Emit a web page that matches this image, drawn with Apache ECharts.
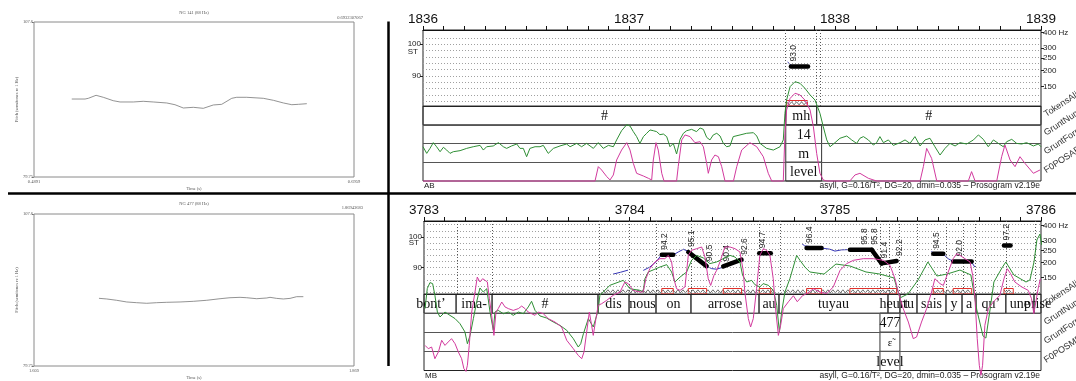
<!DOCTYPE html>
<html><head><meta charset="utf-8">
<style>html,body{margin:0;padding:0;background:#fff}#c{width:1076px;height:381px}</style>
<script src="https://cdn.jsdelivr.net/npm/echarts/dist/echarts.min.js"></script>
</head><body><div id="c"></div>
<script>
// ---------------- Left panels (stylized pitch contours) ----------------
const leftTopTitle = 'NG 141 (88 Hz)';
const leftTopCorner = '0.6932307067';
const leftTopTimeRange = [0.4891, 0.6959];
const leftPitchRange = [79.75, 107.6];
const leftTopCurve = [[0.5135,93.76],[0.5221,93.76],[0.5242,93.89],[0.5292,94.43],[0.5339,94.07],[0.5403,93.46],[0.5447,93.23],[0.5533,93.23],[0.5597,93.35],[0.5662,93.23],[0.5749,93.05],[0.5802,92.74],[0.5856,92.15],[0.5921,92.27],[0.5985,92.09],[0.6050,92.69],[0.6104,92.81],[0.6169,93.89],[0.6201,94.07],[0.6266,94.07],[0.6373,93.89],[0.6438,93.53],[0.6503,93.05],[0.6557,92.74],[0.6600,92.81],[0.6654,92.92]];
const leftBotTitle = 'NG 477 (88 Hz)';
const leftBotCorner = '1.86943683';
const leftBotTimeRange = [1.605, 1.869];
const leftBotCurve = [[1.6586,92.15],[1.6650,92.03],[1.6732,91.79],[1.6815,91.48],[1.6897,91.35],[1.6980,91.24],[1.7062,91.35],[1.7145,91.42],[1.7255,91.48],[1.7364,91.60],[1.7475,91.79],[1.7585,92.08],[1.7667,92.26],[1.7750,92.33],[1.7805,92.26],[1.7887,92.08],[1.7970,92.21],[1.7997,92.33],[1.8052,92.14],[1.8107,92.03],[1.8162,92.14],[1.8217,92.45],[1.8272,92.45]];

// ---------------- Shared prosogram axis data ----------------
const stTicks = [90, 100];
const hzTicks = [150, 200, 250, 300, 400];
const tierNamesTop = ['TokensAlign', 'GruntNum', 'GruntForm', 'F0POSAB'];
const tierNamesBot = ['TokensAlign', 'GruntNum', 'GruntForm', 'F0POSMB'];
const tierRows = [0, 1, 2, 3];
const footerText = 'asyll, G=0.16/T\u00B2, DG=20, dmin=0.035 \u2013 Prosogram v2.19e';

// ---------------- Right top prosogram (AB) ----------------
const topTimeRange = [1836, 1839];
const topTimeLabels = [1836, 1837, 1838, 1839];
const topPitchRange = [80.54, 104.5];
const topGridLevels = [82, 84, 86, 88, 90, 92, 94, 96, 98, 100, 102];
const topBoundaries = [1837.761, 1837.911, 1837.935];
const topCells = [[1836.000,1837.761,0,'#'],[1837.761,1837.911,0,'mh'],[1837.911,1839.000,0,'#'],
  [1837.761,1837.935,1,'14'],[1837.761,1837.935,2,'m'],[1837.761,1837.935,3,'level']];
const topVoiced = [[1837.765,1837.866]];
const topNuclei = [[1837.765,1837.866]];
const topRaw = [[[1837.770,94.4],[1837.790,93.2],[1837.820,93.0],[1837.866,92.8]]];
const topStyl = [[1837.786,93.0,1837.869,93.0]];
const topLabels = [[1837.786,93.0,'93.0']];
const topGreen = [[1836.000,22.7],[1836.018,18.3],[1836.034,21.6],[1836.050,25.4],[1836.066,22.7],[1836.083,19.4],[1836.099,22.3],[1836.115,20.5],[1836.131,18.3],[1836.147,19.4],[1836.180,20.1],[1836.212,21.6],[1836.244,22.7],[1836.277,23.6],[1836.293,20.5],[1836.309,22.7],[1836.341,23.2],[1836.366,25.4],[1836.390,22.7],[1836.406,21.6],[1836.430,23.2],[1836.455,24.5],[1836.471,21.6],[1836.487,21.6],[1836.503,16.1],[1836.519,21.6],[1836.544,22.7],[1836.568,22.7],[1836.584,23.6],[1836.608,18.3],[1836.633,21.6],[1836.665,23.2],[1836.697,24.5],[1836.714,22.7],[1836.746,24.9],[1836.770,22.7],[1836.794,24.9],[1836.827,21.6],[1836.851,25.4],[1836.875,21.6],[1836.900,23.6],[1836.924,22.7],[1836.940,27.2],[1836.964,33.3],[1836.989,37.3],[1837.005,36.4],[1837.021,32.7],[1837.037,29.4],[1837.053,24.9],[1837.070,29.4],[1837.086,31.6],[1837.102,33.8],[1837.118,33.3],[1837.134,32.7],[1837.150,30.7],[1837.167,31.1],[1837.183,29.4],[1837.199,22.7],[1837.215,24.9],[1837.231,17.9],[1837.248,27.6],[1837.264,31.6],[1837.280,33.3],[1837.304,34.2],[1837.328,32.7],[1837.345,35.1],[1837.361,34.2],[1837.377,28.9],[1837.393,27.2],[1837.409,30.5],[1837.426,31.6],[1837.442,29.8],[1837.458,24.9],[1837.474,22.7],[1837.490,23.2],[1837.506,29.4],[1837.539,30.5],[1837.571,31.6],[1837.604,32.0],[1837.620,29.8],[1837.636,24.9],[1837.668,21.6],[1837.701,20.5],[1837.733,22.7],[1837.749,27.2],[1837.757,44.8],[1837.765,53.6],[1837.782,62.5],[1837.806,65.8],[1837.830,64.7],[1837.854,61.4],[1837.879,57.0],[1837.903,53.6],[1837.927,44.8],[1837.943,36.0],[1837.960,27.2],[1837.976,22.7],[1838.000,25.4],[1838.024,28.3],[1838.057,29.8],[1838.081,27.2],[1838.105,24.9],[1838.121,28.3],[1838.138,29.4],[1838.162,27.2],[1838.186,23.8],[1838.202,25.4],[1838.218,29.4],[1838.235,25.4],[1838.259,27.2],[1838.283,23.6],[1838.316,25.4],[1838.340,27.2],[1838.364,24.9],[1838.388,29.4],[1838.413,23.2],[1838.437,27.2],[1838.461,28.3],[1838.485,22.7],[1838.510,17.2],[1838.534,21.6],[1838.558,24.9],[1838.583,23.2],[1838.607,25.4],[1838.639,24.5],[1838.672,27.2],[1838.696,30.5],[1838.720,27.6],[1838.744,22.7],[1838.769,27.2],[1838.793,24.9],[1838.817,22.7],[1838.833,26.0],[1838.858,27.6],[1838.882,24.9],[1838.906,24.5],[1838.930,25.4],[1838.963,23.2],[1838.987,24.5],[1839.000,22.7]];
const topMagenta = [[1836.000,0],[1836.835,0],[1836.851,9.5],[1836.867,7.3],[1836.892,2.9],[1836.908,0.7],[1836.924,4.0],[1836.940,13.9],[1836.964,20.5],[1836.989,25.4],[1837.005,20.5],[1837.021,11.7],[1837.037,5.1],[1837.070,3.3],[1837.094,1.8],[1837.110,0.7],[1837.118,13.9],[1837.131,25.4],[1837.142,20.5],[1837.159,5.1],[1837.170,0],[1837.231,0],[1837.239,9.5],[1837.256,27.2],[1837.272,30.5],[1837.296,29.4],[1837.320,25.4],[1837.345,26.0],[1837.361,22.7],[1837.377,11.7],[1837.385,5.1],[1837.401,13.9],[1837.417,17.2],[1837.434,16.1],[1837.450,9.5],[1837.466,0],[1837.507,0],[1837.523,9.5],[1837.547,20.5],[1837.587,25.4],[1837.620,22.7],[1837.652,16.1],[1837.676,5.1],[1837.693,0],[1837.749,0],[1837.757,31.6],[1837.765,47.0],[1837.782,54.7],[1837.806,58.1],[1837.830,57.0],[1837.854,53.6],[1837.879,47.0],[1837.895,36.0],[1837.911,18.3],[1837.927,5.1],[1837.943,0.7],[1837.960,0],[1838.072,0],[1838.097,4.0],[1838.121,5.1],[1838.162,1.8],[1838.202,0],[1838.413,0],[1838.429,9.5],[1838.445,21.6],[1838.469,15.0],[1838.494,0],[1838.647,0],[1838.663,6.2],[1838.680,0],[1838.785,0],[1838.809,16.1],[1838.825,23.8],[1838.850,13.9],[1838.874,9.5],[1838.898,16.1],[1838.922,11.7],[1838.963,5.1],[1838.995,7.3]];

// ---------------- Right bottom prosogram (MB) ----------------
const botTimeRange = [3783, 3786];
const botTimeLabels = [3783, 3784, 3785, 3786];
const botPitchRange = [81.43, 105.2];
const botGridLevels = [82, 84, 86, 88, 90, 92, 94, 96, 98, 100, 102, 104];
const botBoundaries = [3783.156,3783.331,3783.846,3783.997,3784.128,3784.298,3784.629,3784.726,3785.217,3785.256,3785.314,3785.397,3785.538,3785.616,3785.684,3785.829,3785.966];
const botCells = [[3782.912,3783.156,0,'bont\u2019'],[3783.156,3783.331,0,'ima-'],[3783.331,3783.846,0,'#'],[3783.846,3783.997,0,'dis'],[3783.997,3784.128,0,'nous'],[3784.128,3784.298,0,'on'],[3784.298,3784.629,0,'arrose'],[3784.629,3784.726,0,'au'],[3784.726,3785.256,0,'tuyau'],[3785.256,3785.314,0,'heurt'],[3785.314,3785.397,0,'tu'],[3785.397,3785.538,0,'sais'],[3785.538,3785.616,0,'y'],[3785.616,3785.684,0,'a'],[3785.684,3785.829,0,'qu\u2019'],[3785.829,3785.966,0,'une'],[3785.966,3786.000,0,'prise'],
  [3785.217,3785.314,1,'477'],[3785.217,3785.314,2,'\u025B\u0303'],[3785.217,3785.314,3,'level']];
const botVoiced = [[3783.870,3784.697],[3784.745,3785.300],[3785.474,3785.664],[3785.820,3785.868]];
const botNuclei = [[3784.156,3784.212],[3784.285,3784.374],[3784.455,3784.544],[3784.630,3784.686],[3784.860,3784.933],[3785.071,3785.298],[3785.476,3785.525],[3785.573,3785.663],[3785.820,3785.865]];
const botRaw = [
  [[3783.919,87.9],[3783.955,88.5],[3783.992,89.2]],
  [[3784.066,89.1],[3784.098,90.2],[3784.131,92.1],[3784.155,94.2],[3784.213,94.2],[3784.236,95.1],[3784.261,96.0],[3784.285,95.3],[3784.330,92.9],[3784.374,90.5],[3784.398,89.7],[3784.423,89.5],[3784.455,90.2],[3784.500,91.4],[3784.544,92.6],[3784.552,91.9]],
  [[3784.838,97.8],[3784.851,97.1],[3784.860,96.6],[3784.933,96.4],[3784.974,96.0],[3784.998,95.4],[3785.030,95.8],[3785.071,95.9],[3785.177,95.8],[3785.225,91.4],[3785.298,92.2]],
  [[3785.468,95.4],[3785.476,94.6],[3785.525,94.4],[3785.549,92.9],[3785.573,92.1],[3785.662,91.9],[3785.678,90.2]]
];
const botStyl = [[3784.156,94.2,3784.212,94.2],[3784.285,95.1,3784.374,90.5],[3784.455,90.4,3784.544,92.6],[3784.630,94.7,3784.686,94.7],[3784.860,96.4,3784.933,96.4],[3785.071,95.8,3785.177,95.8],[3785.177,95.8,3785.225,91.4],[3785.225,91.4,3785.298,92.2],[3785.476,94.5,3785.525,94.5],[3785.573,92.0,3785.663,92.0],[3785.820,97.2,3785.852,97.2]];
const botLabels = [[3784.156,94.2,'94.2'],[3784.285,95.1,'95.1'],[3784.374,90.5,'90.5'],[3784.455,90.4,'90.4'],[3784.544,92.6,'92.6'],[3784.630,94.7,'94.7'],[3784.860,96.4,'96.4'],[3785.128,95.8,'95.8'],[3785.177,95.8,'95.8'],[3785.225,91.4,'91.4'],[3785.298,92.2,'92.2'],[3785.476,94.5,'94.5'],[3785.590,92.0,'92.0'],[3785.820,97.2,'97.2']];
const botGreen = [[3783.005,41.4],[3783.016,54.8],[3783.029,58.8],[3783.042,58.1],[3783.053,50.3],[3783.065,39.1],[3783.078,35.8],[3783.102,39.1],[3783.126,36.9],[3783.151,34.7],[3783.175,31.3],[3783.199,25.8],[3783.211,17.9],[3783.224,23.5],[3783.240,34.7],[3783.256,45.8],[3783.272,55.2],[3783.288,52.5],[3783.305,54.7],[3783.321,39.1],[3783.337,26.9],[3783.345,39.1],[3783.361,40.2],[3783.386,38.0],[3783.410,39.1],[3783.434,36.9],[3783.459,39.1],[3783.483,38.0],[3783.507,42.5],[3783.523,46.3],[3783.540,40.2],[3783.564,36.5],[3783.596,35.1],[3783.629,32.4],[3783.661,30.2],[3783.694,26.9],[3783.726,21.3],[3783.750,15.7],[3783.762,17.9],[3783.775,24.6],[3783.799,34.7],[3783.823,29.1],[3783.847,40.2],[3783.855,50.3],[3783.904,57.0],[3783.969,60.3],[3784.001,54.7],[3784.050,53.6],[3784.066,52.5],[3784.074,61.4],[3784.091,65.9],[3784.147,69.2],[3784.180,70.8],[3784.204,65.9],[3784.220,59.2],[3784.245,62.5],[3784.277,65.9],[3784.301,73.7],[3784.326,77.0],[3784.358,75.3],[3784.390,71.5],[3784.423,72.6],[3784.455,74.8],[3784.488,77.0],[3784.512,75.9],[3784.536,72.6],[3784.549,63.7],[3784.569,59.2],[3784.593,60.3],[3784.609,57.4],[3784.633,55.9],[3784.649,58.1],[3784.674,57.0],[3784.699,53.6],[3784.715,43.6],[3784.728,25.8],[3784.739,39.1],[3784.755,52.5],[3784.779,61.4],[3784.812,77.0],[3784.828,73.7],[3784.852,69.2],[3784.876,65.9],[3784.945,64.5],[3785.003,71.2],[3785.071,69.9],[3785.149,65.9],[3785.217,64.5],[3785.285,61.9],[3785.314,48.5],[3785.353,51.2],[3785.402,60.5],[3785.450,72.6],[3785.494,63.2],[3785.543,64.5],[3785.606,67.2],[3785.659,63.9],[3785.688,40.5],[3785.718,23.1],[3785.732,21.7],[3785.752,40.5],[3785.771,59.2],[3785.810,68.6],[3785.829,72.6],[3785.868,63.9],[3785.927,59.2],[3785.946,60.5],[3785.966,72.6],[3785.980,87.3],[3785.995,91.3],[3786.004,83.9]];
const botMagenta = [[3783.005,16.8],[3783.021,14.6],[3783.037,15.7],[3783.053,7.9],[3783.070,12.4],[3783.086,20.2],[3783.102,16.8],[3783.118,19.1],[3783.134,21.3],[3783.151,17.9],[3783.167,12.4],[3783.183,7.9],[3783.194,1.2],[3783.204,-0.6],[3783.211,3.5],[3783.220,16.8],[3783.232,39.1],[3783.248,52.5],[3783.259,62.5],[3783.272,59.2],[3783.285,61.4],[3783.297,60.3],[3783.308,59.2],[3783.318,48.0],[3783.329,36.9],[3783.340,23.5],[3783.350,39.1],[3783.361,41.4],[3783.378,45.8],[3783.394,42.5],[3783.410,41.4],[3783.434,40.2],[3783.459,41.4],[3783.475,43.1],[3783.491,41.4],[3783.507,39.1],[3783.523,38.0],[3783.540,36.9],[3783.556,39.1],[3783.580,38.0],[3783.604,34.7],[3783.637,32.4],[3783.669,29.1],[3783.694,20.2],[3783.726,14.6],[3783.750,10.1],[3783.767,7.9],[3783.778,12.4],[3783.791,25.8],[3783.804,39.1],[3783.815,30.2],[3783.823,23.5],[3783.836,34.7],[3783.847,43.6],[3783.864,44.7],[3783.888,46.9],[3783.920,50.3],[3783.953,52.5],[3783.977,59.2],[3783.993,58.1],[3784.017,53.6],[3784.050,52.5],[3784.066,52.5],[3784.079,61.4],[3784.098,68.1],[3784.123,72.6],[3784.147,74.8],[3784.171,74.8],[3784.188,77.0],[3784.204,72.6],[3784.215,61.4],[3784.228,54.7],[3784.245,53.6],[3784.269,55.9],[3784.285,77.0],[3784.301,80.4],[3784.326,81.5],[3784.350,82.6],[3784.366,75.9],[3784.382,61.4],[3784.394,56.9],[3784.410,63.7],[3784.423,67.0],[3784.439,72.6],[3784.463,82.6],[3784.488,82.6],[3784.512,81.5],[3784.536,79.3],[3784.552,67.0],[3784.560,52.5],[3784.577,34.7],[3784.588,29.1],[3784.601,34.7],[3784.617,54.7],[3784.633,77.0],[3784.650,81.5],[3784.666,80.4],[3784.682,77.0],[3784.698,61.4],[3784.711,39.1],[3784.723,23.5],[3784.734,30.2],[3784.747,41.4],[3784.772,46.0],[3784.796,50.0],[3784.815,46.0],[3784.840,50.0],[3784.868,52.0],[3784.893,54.7],[3784.925,52.5],[3784.958,51.4],[3784.990,55.9],[3785.023,67.0],[3785.055,71.5],[3785.088,73.7],[3785.136,74.8],[3785.185,74.8],[3785.234,73.7],[3785.266,70.3],[3785.290,61.4],[3785.306,52.5],[3785.330,41.4],[3785.355,32.4],[3785.379,21.3],[3785.395,22.4],[3785.419,32.4],[3785.444,41.4],[3785.468,52.5],[3785.484,61.4],[3785.509,58.1],[3785.525,56.9],[3785.549,65.9],[3785.573,74.8],[3785.590,78.1],[3785.606,77.0],[3785.630,74.8],[3785.655,72.6],[3785.668,63.7],[3785.679,48.0],[3785.690,21.3],[3785.700,3.5],[3785.708,-3.2],[3785.716,3.5],[3785.727,30.2],[3785.744,41.4],[3785.768,45.8],[3785.800,50.3],[3785.820,61.4],[3785.836,68.1],[3785.852,64.8],[3785.873,59.2],[3785.906,55.9],[3785.938,53.6],[3785.954,48.0],[3785.965,38.0],[3785.975,45.8],[3785.986,54.7],[3785.997,61.4]];

// ---------------- Rendering ----------------
const SANS = 'Liberation Sans, Arial, sans-serif';
const SERIF = 'Liberation Serif, Times New Roman, serif';
const GREEN = '#2f8f35', MAGENTA = '#d23a9e', BLUE = '#3434b4';
const chart = echarts.init(document.getElementById('c'), null, {renderer: 'canvas'});

const hzPos = hzTicks.map(h => 12 * Math.log2(h));
const hzFmt = v => { const h = Math.round(Math.pow(2, v / 12)); return h === 400 ? '400 Hz' : String(h); };

function leftAxes(gi, tr, pr) {
  const x = {gridIndex: gi, type: 'value', min: tr[0], max: tr[1], axisLine: {show: false}, axisTick: {show: false}, splitLine: {show: false},
    axisLabel: {customValues: tr, fontSize: 4.5, fontFamily: SERIF, color: '#555', margin: 2, formatter: v => String(v)},
    name: 'Time (s)', nameLocation: 'middle', nameGap: 9, nameTextStyle: {fontSize: 4.5, fontFamily: SERIF, color: '#555'}};
  const y = {gridIndex: gi, type: 'value', min: pr[0], max: pr[1], axisLine: {show: false}, splitLine: {show: false},
    axisTick: {show: true, customValues: pr, length: 2, lineStyle: {color: '#888'}},
    axisLabel: {customValues: pr, fontSize: 4.5, fontFamily: SERIF, color: '#555', margin: 1, formatter: v => String(v)},
    name: 'Pitch (semitones re 1 Hz)', nameLocation: 'middle', nameGap: 13, nameTextStyle: {fontSize: 4.5, fontFamily: SERIF, color: '#555'}};
  return [x, y];
}
function hiddenX(gi, tr) { return {gridIndex: gi, type: 'value', min: tr[0], max: tr[1], show: false}; }
function timeAxis(gi, tr, labels) {
  return {gridIndex: gi, type: 'value', min: tr[0], max: tr[1], interval: 0.1, position: 'top',
    axisLine: {show: true, lineStyle: {color: '#111', width: 1}},
    axisTick: {show: true, length: 4, lineStyle: {color: '#111'}},
    axisLabel: {customValues: labels, fontSize: 13.5, fontFamily: SANS, color: '#111', margin: 4, formatter: v => String(Math.round(v))},
    splitLine: {show: false}};
}
function stAxis(gi, pr) {
  return {gridIndex: gi, type: 'value', min: pr[0], max: pr[1], position: 'left', axisLine: {show: false}, splitLine: {show: false},
    axisTick: {show: true, customValues: stTicks, length: 3, lineStyle: {color: '#222'}},
    axisLabel: {customValues: stTicks, fontSize: 8, fontFamily: SANS, color: '#222', margin: 2, formatter: v => String(Math.round(v))}};
}
function hzAxis(gi, pr) {
  return {gridIndex: gi, type: 'value', min: pr[0], max: pr[1], position: 'right', axisLine: {show: false}, splitLine: {show: false},
    axisTick: {show: true, customValues: hzPos, length: 3, lineStyle: {color: '#222'}},
    axisLabel: {customValues: hzPos, formatter: hzFmt, fontSize: 8, fontFamily: SANS, color: '#222', margin: 2}};
}

function prosogramSeries(xi, yP, xT, yT, xC, yC, d, pr) {
  const s = [];
  d.raw.forEach((seg, i) => {
    const ser = {type: 'line', xAxisIndex: xi, yAxisIndex: yP, data: seg, showSymbol: false, symbol: 'none', silent: true,
      lineStyle: {color: BLUE, width: 1}, z: 4};
    if (i === 0) {
      ser.markLine = {silent: true, symbol: ['none', 'none'], label: {show: false}, animation: false,
        data: d.levels.map(l => ({yAxis: l, lineStyle: {type: [1, 2], color: '#a0a0a0', width: 1}}))
          .concat(d.bounds.map(t => ({xAxis: t, lineStyle: {type: [1, 2], color: '#555', width: 1}})))};
    }
    s.push(ser);
  });
  s.push({type: 'custom', xAxisIndex: xi, yAxisIndex: yP, silent: true, z: 3,
    data: d.voiced.map(v => [v[0], v[1]]), encode: {x: [0, 1]},
    renderItem: (params, api) => {
      const cs = params.coordSys, b = cs.y + cs.height;
      const x1 = api.coord([api.value(0), pr[0]])[0], x2 = api.coord([api.value(1), pr[0]])[0];
      const pts = []; let k = 0;
      for (let x = x1; x <= x2; x += 2.5, k++) pts.push([x, k % 2 ? b - 1.2 : b - 4.2]);
      return {type: 'polyline', shape: {points: pts}, style: {stroke: '#333', lineWidth: 0.7, fill: null}};
    }});
  s.push({type: 'custom', xAxisIndex: xi, yAxisIndex: yP, silent: true, z: 3,
    data: d.nuclei.map(v => [v[0], v[1]]), encode: {x: [0, 1]},
    renderItem: (params, api) => {
      const cs = params.coordSys, b = cs.y + cs.height;
      const x1 = api.coord([api.value(0), pr[0]])[0], x2 = api.coord([api.value(1), pr[0]])[0];
      return {type: 'rect', shape: {x: x1, y: b - 5.5, width: x2 - x1, height: 5.5}, style: {stroke: '#e0302a', lineWidth: 1, fill: null}};
    }});
  s.push({type: 'custom', xAxisIndex: xi, yAxisIndex: yP, silent: true, z: 5,
    data: d.styl.map(v => v.slice()), encode: {x: [0, 2], y: [1, 3]},
    renderItem: (params, api) => {
      const p1 = api.coord([api.value(0), api.value(1)]), p2 = api.coord([api.value(2), api.value(3)]);
      return {type: 'line', shape: {x1: p1[0], y1: p1[1], x2: p2[0], y2: p2[1]}, style: {stroke: '#000', lineWidth: 4.5, lineCap: 'round'}};
    }});
  s.push({type: 'custom', xAxisIndex: xi, yAxisIndex: yP, silent: true, z: 6,
    data: d.labels.map(v => [v[0], v[1]]), encode: {x: 0, y: 1},
    renderItem: (params, api) => {
      const p = api.coord([api.value(0), api.value(1)]);
      return {type: 'text', x: p[0] + 3, y: p[1] - 5, rotation: Math.PI / 2,
        style: {text: d.labels[params.dataIndex][2], fill: '#222', font: '8.5px ' + SANS, align: 'left', verticalAlign: 'middle'}};
    }});
  s.push({type: 'line', xAxisIndex: xT, yAxisIndex: yT, data: [], silent: true, z: 2,
    markLine: {silent: true, symbol: ['none', 'none'], label: {show: false}, animation: false,
      data: tierRows.map(r => ({yAxis: r, lineStyle: {type: 'solid', color: r === 0 ? '#222' : '#555', width: 1}}))}});
  s.push({type: 'custom', xAxisIndex: xT, yAxisIndex: yT, silent: true, z: 2,
    data: d.cells.map(c => [c[0], c[1], c[2]]), encode: {x: [0, 1], y: 2},
    renderItem: (params, api) => {
      const c = d.cells[params.dataIndex], cs = params.coordSys;
      const p1 = api.coord([c[0], c[2]]), p2 = api.coord([c[1], c[2] + 1]);
      const x1 = Math.max(p1[0], cs.x), x2 = Math.min(p2[0], cs.x + cs.width);
      const fs = c[3] === '\u025B\u0303' ? 11 : 14;
      return {type: 'group', children: [
        {type: 'rect', shape: {x: x1, y: p1[1], width: x2 - x1, height: p2[1] - p1[1]}, style: {fill: null, stroke: '#333', lineWidth: 1}},
        {type: 'text', x: (p1[0] + p2[0]) / 2, y: (p1[1] + p2[1]) / 2 + 1, style: {text: c[3], fill: '#111', font: fs + 'px ' + SERIF, align: 'center', verticalAlign: 'middle'}}
      ]};
    }});
  s.push({type: 'line', xAxisIndex: xC, yAxisIndex: yC, data: d.green, showSymbol: false, symbol: 'none', silent: true, clip: false, lineStyle: {color: GREEN, width: 1}, z: 7});
  s.push({type: 'line', xAxisIndex: xC, yAxisIndex: yC, data: d.magenta, showSymbol: false, symbol: 'none', silent: true, clip: false, lineStyle: {color: MAGENTA, width: 1}, z: 7});
  return s;
}

const lt = leftAxes(0, leftTopTimeRange, leftPitchRange);
const lb = leftAxes(1, leftBotTimeRange, leftPitchRange);

const option = {
  animation: false,
  backgroundColor: '#fff',
  textStyle: {fontFamily: SANS},
  grid: [
    {left: 34, top: 22, width: 320, height: 155, show: true, borderColor: '#8a8a8a', borderWidth: 1, backgroundColor: '#fff'},
    {left: 34, top: 214, width: 320, height: 152, show: true, borderColor: '#8a8a8a', borderWidth: 1, backgroundColor: '#fff'},
    {left: 423, top: 30, width: 618, height: 76},
    {left: 423, top: 106, width: 618, height: 75},
    {left: 423, top: 30, width: 618, height: 151, show: true, borderColor: '#222', borderWidth: 1},
    {left: 424, top: 221, width: 617, height: 73},
    {left: 424, top: 294, width: 617, height: 76.5},
    {left: 424, top: 221, width: 617, height: 149.5, show: true, borderColor: '#222', borderWidth: 1}
  ],
  xAxis: [lt[0], lb[0],
    timeAxis(2, topTimeRange, topTimeLabels), hiddenX(3, topTimeRange), hiddenX(4, topTimeRange),
    timeAxis(5, botTimeRange, botTimeLabels), hiddenX(6, botTimeRange), hiddenX(7, botTimeRange)],
  yAxis: [lt[1], lb[1],
    stAxis(2, topPitchRange), hzAxis(2, topPitchRange),
    {gridIndex: 3, type: 'value', min: 0, max: 4, inverse: true, show: false},
    {gridIndex: 4, type: 'value', min: 0, max: 100, show: false},
    stAxis(5, botPitchRange), hzAxis(5, botPitchRange),
    {gridIndex: 6, type: 'value', min: 0, max: 4, inverse: true, show: false},
    {gridIndex: 7, type: 'value', min: 0, max: 100, show: false}],
  series: [
    {type: 'line', xAxisIndex: 0, yAxisIndex: 0, data: leftTopCurve, showSymbol: false, symbol: 'none', silent: true, lineStyle: {color: '#777', width: 0.8}},
    {type: 'line', xAxisIndex: 1, yAxisIndex: 1, data: leftBotCurve, showSymbol: false, symbol: 'none', silent: true, lineStyle: {color: '#777', width: 0.8}}
  ].concat(
    prosogramSeries(2, 2, 3, 4, 4, 5, {raw: topRaw, levels: topGridLevels, bounds: topBoundaries, voiced: topVoiced, nuclei: topNuclei,
      styl: topStyl, labels: topLabels, cells: topCells, green: topGreen, magenta: topMagenta}, topPitchRange),
    prosogramSeries(5, 6, 6, 8, 7, 9, {raw: botRaw, levels: botGridLevels, bounds: botBoundaries, voiced: botVoiced, nuclei: botNuclei,
      styl: botStyl, labels: botLabels, cells: botCells, green: botGreen, magenta: botMagenta}, botPitchRange)
  ),
  graphic: [
    {type: 'line', shape: {x1: 8, y1: 193.5, x2: 1076, y2: 193.5}, style: {stroke: '#000', lineWidth: 2.5}, z: 100},
    {type: 'line', shape: {x1: 388.5, y1: 21.5, x2: 388.5, y2: 366}, style: {stroke: '#000', lineWidth: 2.5}, z: 100},
    {type: 'text', x: 194, y: 13, style: {text: leftTopTitle, font: '4.5px ' + SERIF, fill: '#555', align: 'center', verticalAlign: 'middle'}},
    {type: 'text', x: 363, y: 18, style: {text: leftTopCorner, font: '4.5px ' + SERIF, fill: '#555', align: 'right', verticalAlign: 'middle'}},
    {type: 'text', x: 194, y: 203.5, style: {text: leftBotTitle, font: '4.5px ' + SERIF, fill: '#555', align: 'center', verticalAlign: 'middle'}},
    {type: 'text', x: 363, y: 207.5, style: {text: leftBotCorner, font: '4.5px ' + SERIF, fill: '#555', align: 'right', verticalAlign: 'middle'}},
    {type: 'text', x: 418, y: 52, style: {text: 'ST', font: '8px ' + SANS, fill: '#222', align: 'right', verticalAlign: 'middle'}},
    {type: 'text', x: 419, y: 243, style: {text: 'ST', font: '8px ' + SANS, fill: '#222', align: 'right', verticalAlign: 'middle'}},
    {type: 'text', x: 424, y: 186, style: {text: 'AB', font: '8px ' + SANS, fill: '#222', align: 'left', verticalAlign: 'middle'}},
    {type: 'text', x: 425, y: 376, style: {text: 'MB', font: '8px ' + SANS, fill: '#222', align: 'left', verticalAlign: 'middle'}},
    {type: 'text', x: 1040, y: 186, style: {text: footerText, font: '8.5px ' + SANS, fill: '#222', align: 'right', verticalAlign: 'middle'}},
    {type: 'text', x: 1040, y: 376, style: {text: footerText, font: '8.5px ' + SANS, fill: '#222', align: 'right', verticalAlign: 'middle'}}
  ].concat(
    tierNamesTop.map((n, i) => ({type: 'text', x: 1045, y: 115 + i * 18.75, rotation: 0.58, style: {text: n, font: '9px ' + SANS, fill: '#333', align: 'left', verticalAlign: 'middle'}})),
    tierNamesBot.map((n, i) => ({type: 'text', x: 1045, y: 304 + i * 19, rotation: 0.58, style: {text: n, font: '9px ' + SANS, fill: '#333', align: 'left', verticalAlign: 'middle'}}))
  )
};
chart.setOption(option);
</script></body></html>
